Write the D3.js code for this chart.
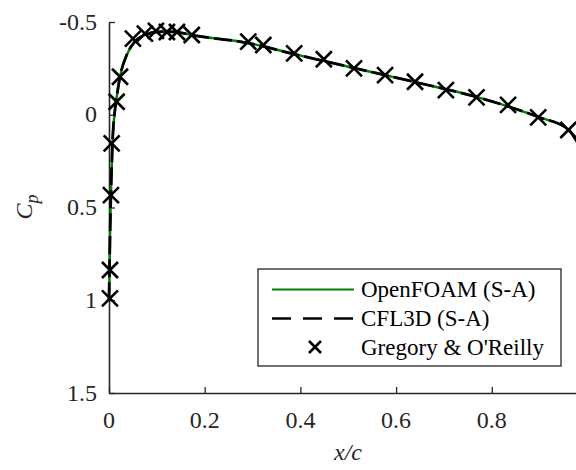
<!DOCTYPE html>
<html>
<head>
<meta charset="utf-8">
<script src="https://cdn.jsdelivr.net/npm/d3@7"></script>
</head>
<body style="margin:0">
<script>
// surface pressure on NACA 0012
var cfdX = [0, 0.001, 0.002, 0.004, 0.0073, 0.0125, 0.0167, 0.023, 0.037, 0.054, 0.075, 0.103, 0.131, 0.18, 0.29, 0.387, 0.512, 0.64, 0.768, 0.897, 0.96, 0.976, 0.99];
var openfoamCp = [1.0, 0.837, 0.675, 0.433, 0.152, -0.026, -0.106, -0.205, -0.322, -0.394, -0.43, -0.446, -0.446, -0.426, -0.387, -0.327, -0.252, -0.176, -0.096, 0.012, 0.08, 0.136, 0.2];
var cfl3dCp = [1.0, 0.837, 0.675, 0.433, 0.152, -0.026, -0.106, -0.205, -0.322, -0.394, -0.43, -0.448, -0.448, -0.426, -0.387, -0.327, -0.252, -0.176, -0.096, 0.012, 0.08, 0.136, 0.2];

var expX = [0.002, 0.002, 0.004, 0.0056, 0.016, 0.023, 0.05, 0.075, 0.098, 0.121, 0.142, 0.173, 0.291, 0.3225, 0.387, 0.449, 0.512, 0.577, 0.6395, 0.704, 0.768, 0.834, 0.897, 0.96];
var expCp = [0.99, 0.837, 0.433, 0.154, -0.07, -0.205, -0.41, -0.437, -0.452, -0.446, -0.446, -0.43, -0.394, -0.376, -0.331, -0.299, -0.25, -0.214, -0.178, -0.133, -0.094, -0.053, 0.014, 0.082];

var xTicks = [0, 0.2, 0.4, 0.6, 0.8];
var yTicks = [-0.5, 0, 0.5, 1, 1.5];
var xTickLabels = ["0", "0.2", "0.4", "0.6", "0.8"];
var yTickLabels = ["-0.5", "0", "0.5", "1", "1.5"];
var legendLabels = ["OpenFOAM (S-A)", "CFL3D (S-A)", "Gregory & O'Reilly"];

var W = 576, H = 470;
var ink = "#262626";
var serif = "Liberation Serif";

var svg = d3.select("body").append("svg")
    .attr("width", W)
    .attr("height", H)
    .attr("font-family", serif);

var x = d3.scaleLinear().domain([0, 1]).range([109, 587.5]);
var y = d3.scaleLinear().domain([-0.5, 1.5]).range([22, 393]);

// tick labels first, placed with the scales
var labels = svg.append("g").attr("font-family", serif).attr("font-size", 24).attr("fill", ink);
labels.selectAll("text.xl").data(xTicks).enter().append("text")
    .attr("class", "xl")
    .attr("x", function(d) { return x(d); })
    .attr("y", 428)
    .attr("text-anchor", "middle")
    .text(function(d, i) { return xTickLabels[i]; });
labels.selectAll("text.yl").data(yTicks).enter().append("text")
    .attr("class", "yl")
    .attr("x", 97)
    .attr("y", function(d) { return y(d); })
    .attr("dy", "0.32em")
    .attr("text-anchor", "end")
    .text(function(d, i) { return yTickLabels[i]; });

// axis lines and inward ticks
var xAxis = d3.axisBottom(x).tickValues(xTicks)
    .tickSizeInner(-6).tickSizeOuter(0).tickFormat("");
var yAxis = d3.axisLeft(y).tickValues(yTicks)
    .tickSizeInner(-6).tickSizeOuter(0).tickFormat("");

var gx = svg.append("g").attr("transform", "translate(0,393)").call(xAxis);
var gy = svg.append("g").attr("transform", "translate(109,0)").call(yAxis);

[gx, gy].forEach(function(g) {
    g.attr("font-family", null).attr("font-size", null);
    g.selectAll(".tick text").remove();
    g.select(".domain").attr("stroke", ink).attr("stroke-width", 1.6);
    g.selectAll(".tick line").attr("stroke", ink).attr("stroke-width", 1.3);
});

// curves
var line = function(cp) {
    return d3.line()
        .x(function(d, i) { return x(cfdX[i]); })
        .y(function(d) { return y(d); })
        .curve(d3.curveMonotoneX)(cp);
};

svg.append("path")
    .attr("d", line(openfoamCp))
    .attr("fill", "none")
    .attr("stroke", "#008000")
    .attr("stroke-width", 2.4);

svg.append("path")
    .attr("d", line(cfl3dCp))
    .attr("fill", "none")
    .attr("stroke", "#000")
    .attr("stroke-width", 2.8)
    .attr("stroke-dasharray", "18,5");

function cross(g, cx, cy, r) {
    g.append("path")
        .attr("d", "M" + (cx - r) + "," + (cy - r) + "L" + (cx + r) + "," + (cy + r) +
                   "M" + (cx - r) + "," + (cy + r) + "L" + (cx + r) + "," + (cy - r))
        .attr("stroke", "#000")
        .attr("stroke-width", 2.6)
        .attr("fill", "none");
}

var marks = svg.append("g");
expCp.forEach(function(d, i) {
    cross(marks, x(expX[i]), y(d), 8);
});

// legend
var leg = svg.append("g");
leg.append("rect")
    .attr("x", 258).attr("y", 269)
    .attr("width", 303).attr("height", 97)
    .attr("fill", "#fff")
    .attr("stroke", ink)
    .attr("stroke-width", 1.3);

var rowY = [289.5, 318.5, 347];
leg.append("line")
    .attr("x1", 272).attr("x2", 354).attr("y1", rowY[0]).attr("y2", rowY[0])
    .attr("stroke", "#008000").attr("stroke-width", 2.2);
leg.append("line")
    .attr("x1", 272).attr("x2", 354).attr("y1", rowY[1]).attr("y2", rowY[1])
    .attr("stroke", "#000").attr("stroke-width", 2.6)
    .attr("stroke-dasharray", "19,12");
cross(leg, 315, rowY[2], 6);

leg.selectAll("text.lab").data(legendLabels).enter().append("text")
    .attr("class", "lab")
    .attr("x", 361)
    .attr("y", function(d, i) { return rowY[i]; })
    .attr("dy", "0.33em")
    .attr("fill", "#000")
    .attr("font-family", serif)
    .attr("font-size", 23)
    .text(function(d) { return d; });

// axis titles
svg.append("text")
    .attr("x", 348).attr("y", 460)
    .attr("text-anchor", "middle")
    .attr("fill", ink)
    .attr("font-family", serif)
    .attr("font-size", 24)
    .attr("font-style", "italic")
    .text("x/c");

var yl = svg.append("text")
    .attr("transform", "translate(32,207) rotate(-90)")
    .attr("text-anchor", "middle")
    .attr("fill", ink)
    .attr("font-family", serif)
    .attr("font-size", 24)
    .attr("font-style", "italic");
yl.append("tspan").text("C");
yl.append("tspan").attr("dy", 6).attr("font-size", 18).text("p");
</script>
</body>
</html>
